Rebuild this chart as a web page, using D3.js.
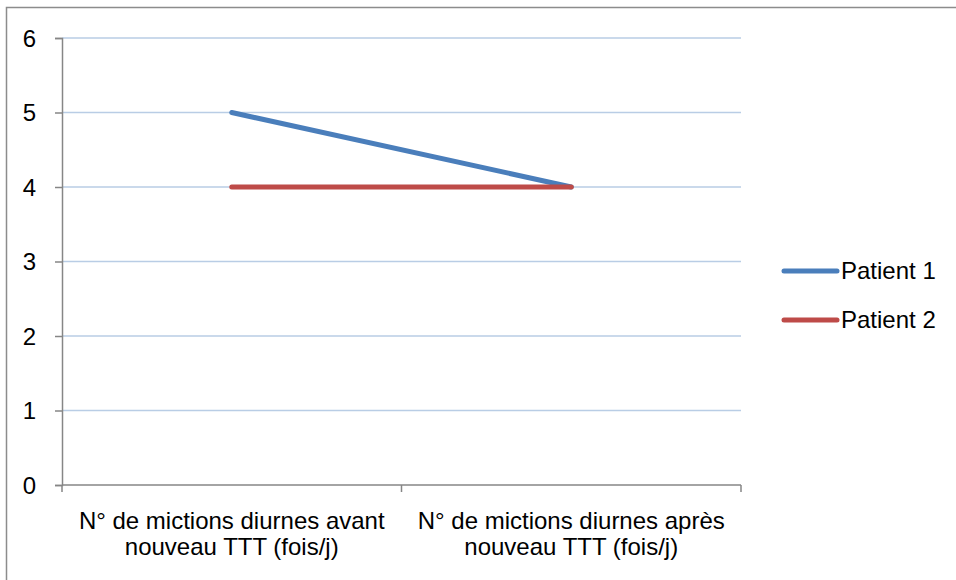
<!DOCTYPE html>
<html>
<head>
<meta charset="utf-8">
<script src="https://cdn.jsdelivr.net/npm/d3@7"></script>
<style>
  html, body { margin: 0; padding: 0; background: #fff; }
  svg { display: block; font-family: "Liberation Sans", Arial, sans-serif; }
</style>
</head>
<body>
<svg id="chart" width="956" height="580"></svg>
<script>
// Daytime urination counts before / after the new treatment
const categories = [
  ["N° de mictions diurnes avant", "nouveau TTT (fois/j)"],
  ["N° de mictions diurnes après", "nouveau TTT (fois/j)"]
];
const seriesNames = ["Patient 1", "Patient 2"];
const patient1 = [5, 4];
const patient2 = [4, 4];
const yTicks = [0, 1, 2, 3, 4, 5, 6];
const colors = ["#4a7ebb", "#be4b48"];

const fontSize = "24px";
const svg = d3.select("#chart");

// Outer chart frame
svg.append("rect")
  .attr("x", 6.5).attr("y", 7.5)
  .attr("width", 960).attr("height", 590)
  .attr("fill", "none")
  .attr("stroke", "#8c8c8c")
  .attr("stroke-width", 1.5);

const plotLeft = 62, plotRight = 741, plotTop = 38, plotBottom = 485;

const x = d3.scaleBand()
  .domain(d3.range(categories.length))
  .range([plotLeft, plotRight])
  .padding(0);

const y = d3.scaleLinear().domain([0, 6]).range([plotBottom, plotTop]);

// Horizontal gridlines
svg.append("g")
  .selectAll("line")
  .data(yTicks.filter(d => d > 0))
  .join("line")
  .attr("x1", plotLeft).attr("x2", plotRight)
  .attr("y1", d => y(d)).attr("y2", d => y(d))
  .attr("stroke", "#b9cde5")
  .attr("stroke-width", 1.5);

// Y axis
const yAxis = svg.append("g")
  .attr("transform", `translate(${plotLeft},0)`)
  .call(d3.axisLeft(y).tickValues(yTicks).tickSize(7).tickPadding(19).tickFormat(d3.format("d")));
yAxis.select(".domain").attr("stroke", "#868686").attr("stroke-width", 1.5);
yAxis.selectAll(".tick line").attr("stroke", "#868686").attr("stroke-width", 1.5);
yAxis.selectAll(".tick text")
  .attr("fill", "#000")
  .attr("dy", "0.34em")
  .style("font-size", fontSize)
  .style("font-family", "Liberation Sans, Arial, sans-serif");

// X axis with category boundary ticks
const xAxisG = svg.append("g").attr("transform", `translate(0,${plotBottom})`);
xAxisG.append("line")
  .attr("x1", plotLeft).attr("x2", plotRight)
  .attr("stroke", "#868686").attr("stroke-width", 1.5);
const boundaries = d3.range(categories.length + 1).map(i => i < categories.length ? x(i) : x(i - 1) + x.bandwidth());
xAxisG.selectAll("line.tk")
  .data(boundaries)
  .join("line")
  .attr("class", "tk")
  .attr("x1", d => d).attr("x2", d => d)
  .attr("y1", 0).attr("y2", 7)
  .attr("stroke", "#868686").attr("stroke-width", 1.5);

// Category labels (two lines each)
const catLabels = svg.append("g")
  .selectAll("text")
  .data(categories)
  .join("text")
  .attr("x", (d, i) => x(i) + x.bandwidth() / 2)
  .attr("y", 529)
  .attr("text-anchor", "middle")
  .style("font-size", fontSize)
  .attr("fill", "#000");
catLabels.each(function (lines) {
  const t = d3.select(this);
  lines.forEach((ln, k) => {
    t.append("tspan")
      .attr("x", t.attr("x"))
      .attr("dy", k === 0 ? 0 : 26)
      .text(ln);
  });
});

// Lines
const series = [patient1, patient2];
const line = d3.line()
  .x((d, i) => x(i) + x.bandwidth() / 2)
  .y(d => y(d));

svg.append("g")
  .selectAll("path")
  .data(series)
  .join("path")
  .attr("d", d => line(d))
  .attr("fill", "none")
  .attr("stroke", (d, i) => colors[i])
  .attr("stroke-width", 5)
  .attr("stroke-linecap", "round")
  .attr("stroke-linejoin", "round");

// Legend
const legend = svg.append("g")
  .selectAll("g")
  .data(seriesNames)
  .join("g")
  .attr("transform", (d, i) => `translate(784,${271 + i * 49})`);
legend.append("line")
  .attr("x1", 0).attr("x2", 53)
  .attr("stroke", (d, i) => colors[i])
  .attr("stroke-width", 5)
  .attr("stroke-linecap", "round");
legend.append("text")
  .attr("x", 57)
  .attr("y", 8)
  .style("font-size", fontSize)
  .attr("fill", "#000")
  .text(d => d);
</script>
</body>
</html>
